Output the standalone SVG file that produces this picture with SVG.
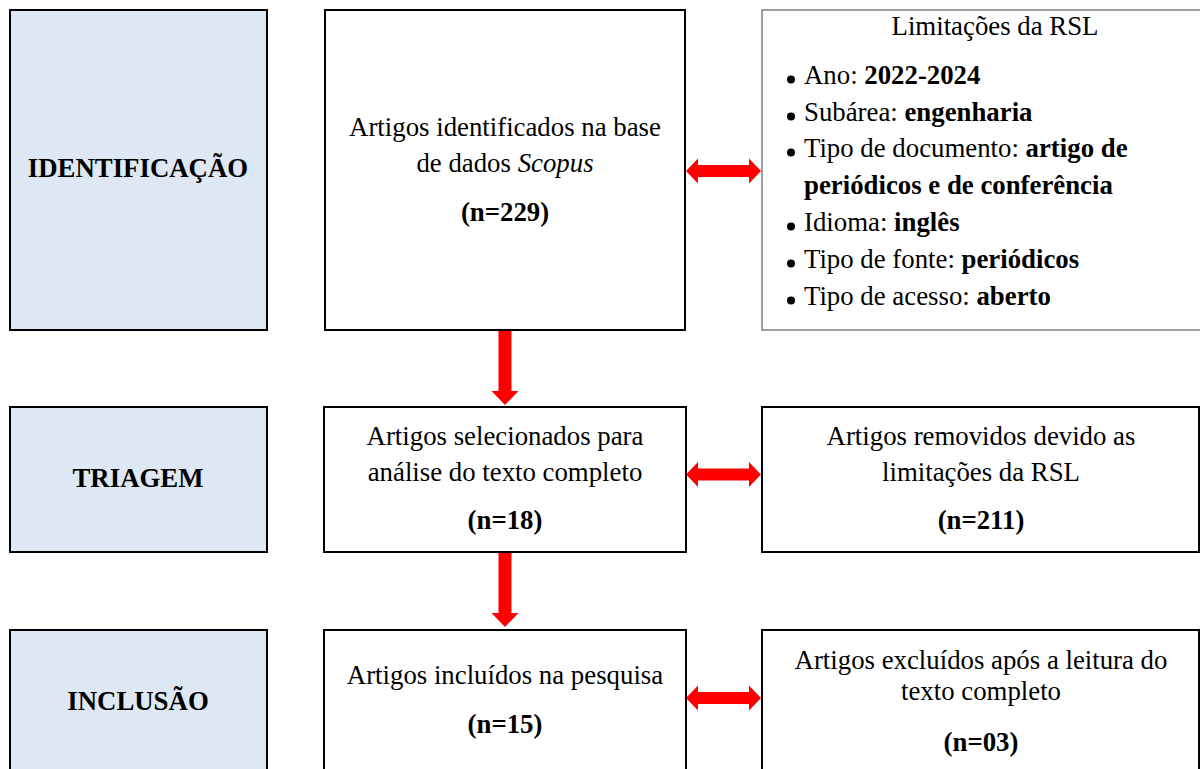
<svg xmlns="http://www.w3.org/2000/svg" width="1200" height="769" viewBox="0 0 1200 769">
<style>
text{font-family:"Liberation Serif","Times New Roman",serif;font-size:26.8px;fill:#000}
.c{text-anchor:middle}
.b{font-weight:bold}
.stage{fill:#dee8f4;stroke:#000;stroke-width:2}
.box{fill:#fff;stroke:#000;stroke-width:2}
.gbox{fill:#fff;stroke:#808080;stroke-width:1.5}
.arr{fill:#ff0000}
.dot{fill:#000}
</style>
<rect width="1200" height="769" fill="#fff"/>
<g id="stage-identificacao"><rect class="stage" x="10" y="10" width="257" height="320"/><text class="c b" x="138" y="177">IDENTIFICAÇÃO</text></g>
<g id="stage-triagem"><rect class="stage" x="10" y="407" width="257" height="145"/><text class="c b" x="138" y="487">TRIAGEM</text></g>
<g id="stage-inclusao"><rect class="stage" x="10" y="630" width="257" height="150"/><text class="c b" x="138" y="710">INCLUSÃO</text></g>
<g id="identificados"><rect class="box" x="325" y="10" width="360" height="320" stroke-width="1.5"/><text class="c" x="505" y="136">Artigos identificados na base</text><text class="c" x="505" y="172">de dados <tspan font-style="italic">Scopus</tspan></text><text class="c b" x="505" y="221">(n=229)</text></g>
<g id="limitacoes"><rect class="gbox" x="762" y="10" width="445" height="320"/><text class="c" x="995" y="35">Limitações da RSL</text>
<circle class="dot" cx="791" cy="79.5" r="4"/><text x="804" y="84">Ano: <tspan class="b">2022-2024</tspan></text>
<circle class="dot" cx="791" cy="116.5" r="4"/><text x="804" y="121">Subárea: <tspan class="b">engenharia</tspan></text>
<circle class="dot" cx="791" cy="152.5" r="4"/><text x="804" y="157">Tipo de documento: <tspan class="b">artigo de</tspan></text>
<text x="804" y="194" class="b">periódicos e de conferência</text>
<circle class="dot" cx="791" cy="226.5" r="4"/><text x="804" y="231">Idioma: <tspan class="b">inglês</tspan></text>
<circle class="dot" cx="791" cy="263.5" r="4"/><text x="804" y="268">Tipo de fonte: <tspan class="b">periódicos</tspan></text>
<circle class="dot" cx="791" cy="300.5" r="4"/><text x="804" y="305">Tipo de acesso: <tspan class="b">aberto</tspan></text></g>
<g id="selecionados"><rect class="box" x="324" y="407" width="362" height="145"/><text class="c" x="505" y="445">Artigos selecionados para</text><text class="c" x="505" y="481">análise do texto completo</text><text class="c b" x="505" y="529">(n=18)</text></g>
<g id="removidos"><rect class="box" x="762" y="407" width="437" height="145"/><text class="c" x="981" y="445">Artigos removidos devido as</text><text class="c" x="981" y="481">limitações da RSL</text><text class="c b" x="981" y="529">(n=211)</text></g>
<g id="incluidos"><rect class="box" x="324" y="630" width="362" height="150"/><text class="c" x="505" y="684">Artigos incluídos na pesquisa</text><text class="c b" x="505" y="733">(n=15)</text></g>
<g id="excluidos"><rect class="box" x="762" y="630" width="437" height="150"/><text class="c" x="981" y="669">Artigos excluídos após a leitura do</text><text class="c" x="981" y="700">texto completo</text><text class="c b" x="981" y="751">(n=03)</text></g>
<g id="connectors">
<polygon class="arr" points="686,171 698,158.5 698,165 749,165 749,158.5 761,171 749,183.5 749,177 698,177 698,183.5"/>
<polygon class="arr" points="686,474.5 698,462 698,468.5 749,468.5 749,462 761,474.5 749,487 749,480.5 698,480.5 698,487"/>
<polygon class="arr" points="686,698 698,685.5 698,692 749,692 749,685.5 761,698 749,710.5 749,704 698,704 698,710.5"/>
<polygon class="arr" points="498.5,331 511.5,331 511.5,391 518.5,391 505,405 491.5,391 498.5,391"/>
<polygon class="arr" points="498.5,553 511.5,553 511.5,613 518.5,613 505,627 491.5,613 498.5,613"/>
</g>
</svg>
